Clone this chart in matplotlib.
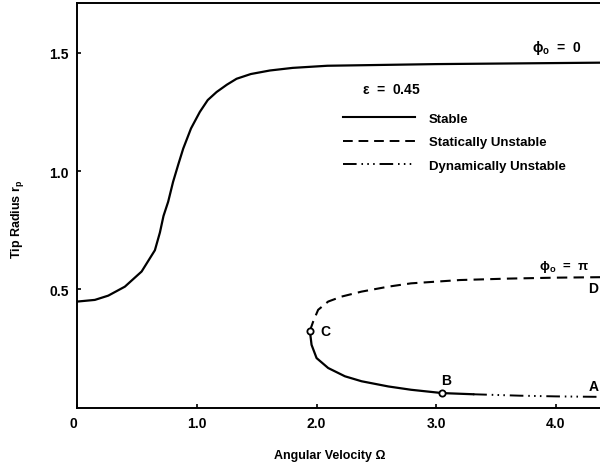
import matplotlib

matplotlib.use("Agg")

import matplotlib.pyplot as plt
from matplotlib.lines import Line2D

# phi_o = 0 branch (stable)
omega_top = [0.0, 0.146, 0.258, 0.397, 0.537, 0.648, 0.69, 0.72, 0.759, 0.80,
             0.845, 0.885, 0.95, 1.024, 1.09, 1.164, 1.25, 1.331, 1.45, 1.61,
             1.8, 2.09, 3.0, 4.37]
rp_top = [0.448, 0.455, 0.473, 0.511, 0.575, 0.665, 0.74, 0.81, 0.87, 0.954,
          1.03, 1.095, 1.18, 1.25, 1.30, 1.334, 1.365, 1.39, 1.41, 1.425,
          1.436, 1.445, 1.452, 1.458]

# phi_o = pi branch, statically unstable part (C -> D)
omega_static = [1.944, 1.972, 2.013, 2.097, 2.209, 2.376, 2.6, 2.79, 3.2, 3.6, 4.0, 4.37]
rp_static = [0.324, 0.364, 0.413, 0.448, 0.469, 0.49, 0.511, 0.525, 0.539, 0.545, 0.549, 0.551]

# phi_o = pi branch, stable part (C -> B -> end)
omega_low = [1.944, 1.958, 2.0, 2.097, 2.237, 2.376, 2.6, 2.79, 3.05, 3.31]
rp_low = [0.324, 0.265, 0.209, 0.167, 0.132, 0.111, 0.089, 0.075, 0.061, 0.056]

# dynamically unstable part (towards A)
omega_dyn = [3.31, 3.7, 4.0, 4.37]
rp_dyn = [0.056, 0.05, 0.047, 0.045]

# marked points C and B
point_names = ["C", "B"]
point_omega = [1.944, 3.05]
point_rp = [0.324, 0.061]

x_ticks = [0, 1, 2, 3, 4]
x_ticklabels = ["0", "1.0", "2.0", "3.0", "4.0"]
y_ticks = [0.5, 1.0, 1.5]
y_ticklabels = ["0.5", "1.0", "1.5"]

DASHED = (0, (5, 3))
DASH_DOTS = (0, (7, 2.5, 0.8, 2.2, 0.8, 2.2, 0.8, 2.5))

plt.rcParams.update(
    {
        "font.family": "Liberation Sans",
        "font.weight": "bold",
        "font.size": 9,
        "mathtext.default": "regular",
        "axes.linewidth": 1.4,
    }
)

fig = plt.figure(figsize=(6.0, 4.64), dpi=100)
ax = fig.add_axes([0.129, 0.1196, 0.871, 0.8716])

ax.plot(omega_top, rp_top, color="black", lw=1.6, solid_joinstyle="round")
ax.plot(omega_static, rp_static, color="black", lw=1.5, linestyle=DASHED)
ax.plot(omega_low, rp_low, color="black", lw=1.6, solid_joinstyle="round")
ax.plot(omega_dyn, rp_dyn, color="black", lw=1.4, linestyle=DASH_DOTS)
ax.plot(point_omega, point_rp, linestyle="none", marker="o", ms=4.5,
        mfc="white", mec="black", mew=1.3, zorder=5)

ax.set_xlim(0, 4.37)
ax.set_ylim(0, 1.71)
ax.set_xticks(x_ticks)
ax.set_xticklabels(x_ticklabels, fontsize=10, fontweight="bold")
ax.get_xticklabels()[0].set_horizontalalignment("right")
ax.set_yticks(y_ticks)
ax.set_yticklabels(y_ticklabels, fontsize=10, fontweight="bold")
ax.tick_params(direction="in", length=3, width=1.2, pad=6)
ax.spines["right"].set_visible(False)

ax.set_xlabel("Angular Velocity Ω", fontsize=9, fontweight="bold")
ax.xaxis.set_label_coords(0.483, -0.103)
ax.set_ylabel("Tip Radius r$_p$", fontsize=9, fontweight="bold")
ax.yaxis.set_label_coords(-0.098, 0.468)

# point labels
ax.text(2.07, 0.323, "C", fontsize=10, ha="center", va="center")
ax.text(3.08, 0.116, "B", fontsize=10, ha="center", va="center")
ax.text(4.32, 0.09, "A", fontsize=10, ha="center", va="center")
ax.text(4.31, 0.504, "D", fontsize=10, ha="center", va="center")

ax.text(3.80, 1.525, r"$\phi_o$  =  0", fontsize=10, ha="left", va="center")
ax.text(3.86, 0.60, r"$\phi_o$  =  $\pi$", fontsize=9.5, ha="left", va="center")
ax.text(2.38, 1.348, r"$\epsilon$  =  0.45", fontsize=10, ha="left", va="center")

handles = [
    Line2D([], [], color="black", lw=1.5),
    Line2D([], [], color="black", lw=1.4, linestyle=DASHED),
    Line2D([], [], color="black", lw=1.4, linestyle=DASH_DOTS),
]
labels = ["Stable", "Statically Unstable", "Dynamically Unstable"]
ax.legend(
    handles,
    labels,
    loc="upper left",
    bbox_to_anchor=(0.508, 0.729),
    frameon=False,
    borderpad=0,
    borderaxespad=0,
    handlelength=5.45,
    handletextpad=1.06,
    labelspacing=0.85,
    prop={"size": 9.5, "weight": "bold"},
)

fig.savefig("out.png", dpi=100, facecolor="white")
